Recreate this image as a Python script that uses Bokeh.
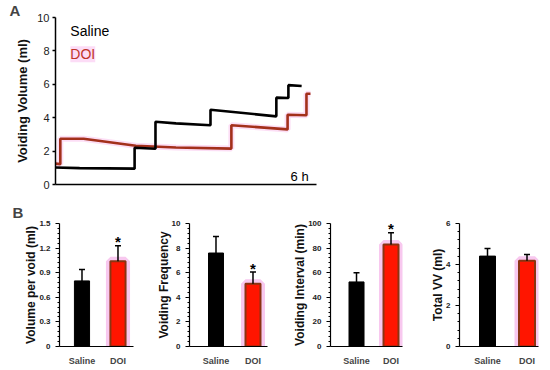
from bokeh.plotting import figure
from bokeh.layouts import column, row
from bokeh.models import Range1d, FixedTicker, Label, Whisker, ColumnDataSource, TeeHead
from bokeh.core.properties import value
from bokeh.embed import file_html
from bokeh.resources import INLINE

FONT = "Liberation Sans"

# ---------------- Panel A data: cumulative voiding volume traces ----------------
saline_t = [0.00, 0.60, 1.97, 1.97, 2.49, 2.49, 3.00, 3.86, 3.86, 5.50, 5.50, 5.80, 5.80, 6.13]
saline_v = [1.02, 0.98, 0.95, 2.20, 2.14, 3.76, 3.66, 3.55, 4.48, 4.08, 5.20, 5.18, 5.95, 5.90]
doi_t = [0.00, 0.12, 0.12, 0.70, 2.00, 3.00, 4.38, 4.38, 5.78, 5.78, 6.25, 6.25, 6.35]
doi_v = [1.25, 1.22, 2.74, 2.74, 2.32, 2.22, 2.15, 3.55, 3.30, 4.18, 4.15, 5.43, 5.43]
volume_ticks = [0, 2, 4, 6, 8, 10]

# ---------------- Panel B data ----------------
categories = ["Saline", "DOI"]
vol_per_void = [0.80, 1.04]
vol_per_void_err = [0.14, 0.19]
vol_per_void_sig = [False, True]
vol_ticks = [0, 0.3, 0.6, 0.9, 1.2, 1.5]
vol_tick_labels = ["0", "0.3", "0.6", "0.9", "1.2", "1.5"]

frequency = [7.6, 5.1]
frequency_err = [1.35, 0.95]
frequency_sig = [False, True]
freq_ticks = [0, 2, 4, 6, 8, 10]

interval = [52.5, 83.0]
interval_err = [7.5, 9.5]
interval_sig = [False, True]
int_ticks = [0, 20, 40, 60, 80, 100]

total_vv = [4.41, 4.18]
total_vv_err = [0.37, 0.31]
total_vv_sig = [False, False]
tvv_ticks = [0, 2, 4, 6]

BLACK = "#000000"
RED = "#ff1500"
BROWN = "#8a3412"
PINK = "#f8c8ef"

# ---------------- Panel A ----------------
pa = figure(width=550, height=196, output_backend="svg", toolbar_location=None,
            x_range=Range1d(0, 6.5), y_range=Range1d(0, 10),
            min_border_left=55, min_border_right=234, min_border_top=16, min_border_bottom=12)
pa.outline_line_color = None
pa.grid.visible = False
pa.title.text = "A"
pa.title.text_font = FONT
pa.title.text_font_size = "15px"
pa.title.text_font_style = "bold"
pa.title.align = "left"
pa.title.offset = -46
pa.title.standoff = -2

pa.line(doi_t, doi_v, line_width=6, color="#fbd6f3", alpha=0.8)
pa.line(doi_t, doi_v, line_width=2.6, color="#a3301b")
pa.line(saline_t, saline_v, line_width=2.6, color=BLACK)

ya = pa.yaxis[0]
ya.ticker = FixedTicker(ticks=volume_ticks)
ya.axis_label = "Voiding Volume (ml)"
ya.axis_label_text_font = FONT
ya.axis_label_text_font_style = "bold"
ya.axis_label_text_font_size = "13px"
ya.axis_label_text_color = "#111111"
ya.axis_label_standoff = 4
ya.major_label_text_font = FONT
ya.major_label_text_font_size = "11px"
ya.major_label_text_color = "#222222"
ya.major_label_standoff = 3
ya.major_tick_out = 3
ya.major_tick_in = 0
ya.minor_tick_line_color = None
ya.axis_line_width = 1.5
ya.major_tick_line_width = 1.5

xa = pa.xaxis[0]
xa.ticker = FixedTicker(ticks=[])
xa.major_tick_line_color = None
xa.minor_tick_line_color = None
xa.major_label_text_font_size = "1px"
xa.axis_line_width = 1.5

pa.add_layout(Label(x=0.37, y=9.17, text="Saline", text_font=FONT, text_font_size="14px",
                    text_baseline="middle", text_align="left", text_color=BLACK))
pa.add_layout(Label(x=0.37, y=7.8, text="DOI", text_font=FONT, text_font_size="14px",
                    text_baseline="middle", text_align="left", text_color="#c0332a",
                    background_fill_color="#fcdcf6"))
pa.add_layout(Label(x=6.08, y=0.5, text="6 h", text_font=FONT, text_font_size="13px",
                    text_baseline="middle", text_align="center", text_color=BLACK))


# ---------------- Panel B ----------------
def bar_panel(vals, errs, sig, ticks, tick_labels, label, width, left, frame_w, xr, bw, step_minor):
    right = width - left - frame_w
    p = figure(width=width, height=174, output_backend="svg", toolbar_location=None,
               x_range=Range1d(*xr), y_range=Range1d(0, ticks[-1]),
               min_border_left=left, min_border_right=right, min_border_top=27, min_border_bottom=24)
    p.outline_line_color = None
    p.grid.visible = False
    xs = list(range(len(categories)))
    tops = [v + e for v, e in zip(vals, errs)]
    src = ColumnDataSource(dict(x=xs, v=vals, top=tops))
    # pink halo for DOI
    p.vbar(x=[xs[1]], top=[vals[1]], width=bw, fill_color=PINK, line_color=PINK, line_width=9)
    p.vbar(x=[xs[0]], top=[vals[0]], width=bw, fill_color=BLACK, line_color=BLACK, line_width=1)
    p.vbar(x=[xs[1]], top=[vals[1]], width=bw, fill_color=RED, line_color=BROWN, line_width=2)
    w = Whisker(base="x", lower="v", upper="top", source=src, line_color=BLACK, line_width=1.5,
                upper_head=TeeHead(size=6, line_color=BLACK, line_width=1.5), lower_head=None,
                level="annotation")
    p.add_layout(w)
    sx = [x for x, s in zip(xs, sig) if s]
    sy = [t for t, s in zip(tops, sig) if s]
    if sx:
        p.text(x=sx, y=sy, text=["*"] * len(sx), text_font=value(FONT), text_font_style="bold",
               text_font_size="15px", text_align="center", text_baseline="middle",
               text_color=BLACK, y_offset=-4)
    ya = p.yaxis[0]
    minors = []
    for a, b in zip(ticks[:-1], ticks[1:]):
        for k in range(1, step_minor):
            minors.append(a + (b - a) * k / step_minor)
    ya.ticker = FixedTicker(ticks=ticks, minor_ticks=minors)
    ya.major_label_overrides = {t: l for t, l in zip(ticks, tick_labels)}
    ya.axis_label = label
    ya.axis_label_text_font = FONT
    ya.axis_label_text_font_style = "bold"
    ya.axis_label_text_font_size = "12px"
    ya.axis_label_text_color = "#111111"
    ya.axis_label_standoff = -2
    ya.major_label_text_font = FONT
    ya.major_label_text_font_style = "bold"
    ya.major_label_text_font_size = "8px"
    ya.major_label_text_color = "#222222"
    ya.major_label_standoff = 5
    ya.major_tick_out = 4
    ya.major_tick_in = 0
    ya.minor_tick_out = 2
    ya.minor_tick_in = 0
    ya.axis_line_width = 1.2

    xa = p.xaxis[0]
    xa.ticker = FixedTicker(ticks=xs)
    xa.major_label_overrides = {x: c for x, c in zip(xs, categories)}
    xa.major_tick_line_color = None
    xa.minor_tick_line_color = None
    xa.major_label_text_font = FONT
    xa.major_label_text_font_style = "bold"
    xa.major_label_text_font_size = "9px"
    xa.major_label_standoff = 3
    xa.axis_line_width = 1.2
    return p


b1 = bar_panel(vol_per_void, vol_per_void_err, vol_per_void_sig, vol_ticks, vol_tick_labels,
               "Volume per void (ml)", 140, 59, 74, (-0.625, 1.431), 0.42, 5)
b1.title.text = "B"
b1.title.text_font = FONT
b1.title.text_font_size = "15px"
b1.title.text_font_style = "bold"
b1.title.align = "left"
b1.title.offset = -47
b1.title.standoff = 5
b2 = bar_panel(frequency, frequency_err, frequency_sig, freq_ticks, [str(t) for t in freq_ticks],
               "Voiding Frequency", 132, 49, 78, (-0.716, 1.392), 0.405, 5)
b3 = bar_panel(interval, interval_err, interval_sig, int_ticks, [str(t) for t in int_ticks],
               "Voiding Interval (min)", 138, 58, 72, (-0.754, 1.333), 0.435, 5)
b4 = bar_panel(total_vv, total_vv_err, total_vv_sig, tvv_ticks, [str(t) for t in tvv_ticks],
               "Total VV (ml)", 140, 49, 79, (-0.709, 1.291), 0.405, 5)

layout = column(pa, row(b1, b2, b3, b4))
open("out.html", "w").write(file_html(layout, INLINE))
